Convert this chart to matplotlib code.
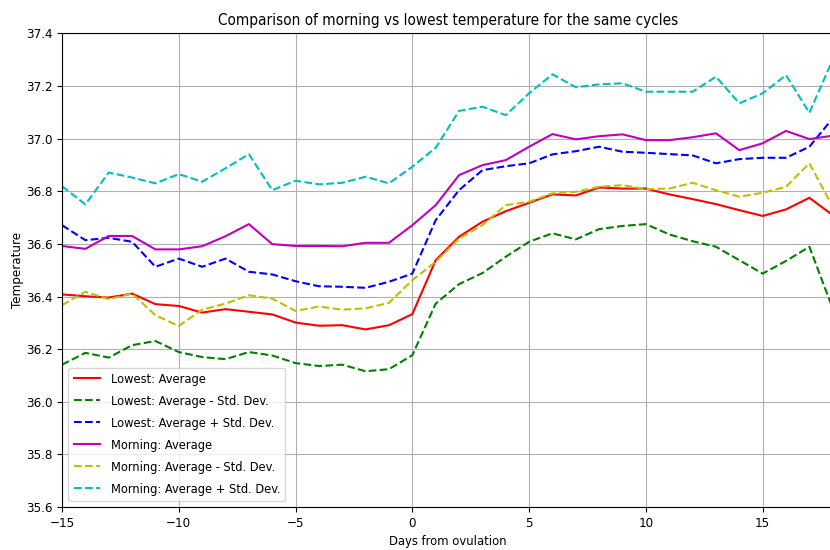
import matplotlib
matplotlib.use("Agg")
import matplotlib.pyplot as plt
import numpy as np

# the reference uses a narrow face of DejaVu Sans
plt.rcParams['font.family'] = ['DejaVu Sans']
plt.rcParams['font.stretch'] = 'condensed'

days = np.arange(-15, 19)

lowest_avg = [36.408, 36.401, 36.396, 36.411, 36.371, 36.364, 36.339, 36.352, 36.342, 36.332,
              36.301, 36.289, 36.291, 36.275, 36.291, 36.333, 36.538, 36.627, 36.684, 36.724,
              36.756, 36.788, 36.784, 36.814, 36.81, 36.81, 36.788, 36.77, 36.751, 36.728,
              36.706, 36.731, 36.775, 36.709]
lowest_minus = [36.141, 36.186, 36.168, 36.215, 36.231, 36.189, 36.17, 36.162, 36.189, 36.176,
                36.147, 36.136, 36.141, 36.116, 36.124, 36.177, 36.373, 36.447, 36.489, 36.551,
                36.608, 36.64, 36.617, 36.656, 36.668, 36.675, 36.636, 36.61, 36.589, 36.538,
                36.487, 36.535, 36.589, 36.354]
lowest_plus = [36.671, 36.614, 36.623, 36.608, 36.513, 36.544, 36.513, 36.544, 36.494, 36.484,
               36.458, 36.439, 36.437, 36.433, 36.456, 36.487, 36.69, 36.804, 36.88, 36.895,
               36.906, 36.94, 36.952, 36.969, 36.95, 36.946, 36.941, 36.936, 36.906, 36.922,
               36.927, 36.927, 36.969, 37.077]
morning_avg = [36.592, 36.581, 36.63, 36.63, 36.579, 36.579, 36.591, 36.629, 36.675, 36.599,
               36.592, 36.592, 36.591, 36.604, 36.604, 36.671, 36.747, 36.861, 36.899, 36.918,
               36.969, 37.017, 36.997, 37.009, 37.016, 36.994, 36.994, 37.005, 37.02, 36.956,
               36.982, 37.029, 36.998, 37.011]
morning_minus = [36.367, 36.418, 36.39, 36.411, 36.329, 36.288, 36.35, 36.373, 36.405, 36.392,
                 36.345, 36.362, 36.35, 36.355, 36.376, 36.462, 36.532, 36.62, 36.671, 36.747,
                 36.76, 36.792, 36.798, 36.817, 36.823, 36.808, 36.81, 36.832, 36.804, 36.779,
                 36.794, 36.817, 36.906, 36.741]
morning_plus = [36.819, 36.75, 36.871, 36.852, 36.83, 36.865, 36.836, 36.887, 36.941, 36.804,
                36.84, 36.826, 36.832, 36.855, 36.83, 36.893, 36.965, 37.105, 37.121, 37.089,
                37.172, 37.244, 37.195, 37.206, 37.21, 37.178, 37.178, 37.178, 37.235, 37.134,
                37.172, 37.241, 37.098, 37.30]

fig = plt.figure(figsize=(8.3, 5.5), dpi=100)
ax = fig.add_axes([0.0747, 0.078, 0.93, 0.8615])

ax.plot(days, lowest_avg, "r-", lw=1.5, label="Lowest: Average")
ax.plot(days, lowest_minus, "g--", lw=1.5, label="Lowest: Average - Std. Dev.")
ax.plot(days, lowest_plus, "b--", lw=1.5, label="Lowest: Average + Std. Dev.")
ax.plot(days, morning_avg, "m-", lw=1.5, label="Morning: Average")
ax.plot(days, morning_minus, "y--", lw=1.5, label="Morning: Average - Std. Dev.")
ax.plot(days, morning_plus, "c--", lw=1.5, label="Morning: Average + Std. Dev.")

ax.set_xlim(-15, 18.05)
ax.set_ylim(35.6, 37.4)
ax.set_xticks([-15, -10, -5, 0, 5, 10, 15])
ax.set_yticks(np.arange(35.6, 37.41, 0.2))
ax.tick_params(labelsize=9.5)
ax.grid(True)
ax.set_title("Comparison of morning vs lowest temperature for the same cycles", fontsize=11)
ax.set_xlabel("Days from ovulation", fontsize=9.3)
ax.set_ylabel("Temperature", fontsize=9.5, labelpad=1.5)
ax.legend(loc="lower left", fontsize=9.2, labelspacing=0.7, handlelength=2.1)

fig.savefig("out.png", dpi=100)
